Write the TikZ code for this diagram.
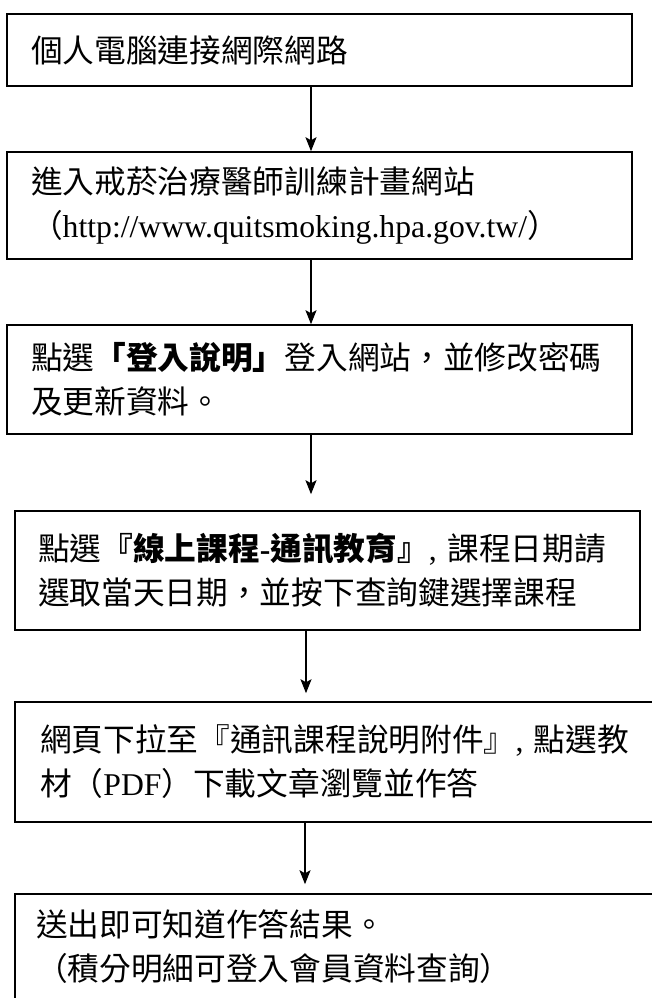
\documentclass[tikz,border=0pt]{standalone}
\usepackage{fontspec}
\setmainfont{Noto Sans CJK TC}
\newfontfamily\lat{Liberation Serif}
\usetikzlibrary{arrows.meta}
\tikzset{
  flowbox/.style={draw=black, line width=1.5pt, rectangle, inner ysep=0pt,
    align=left, font=\fontsize{31.7}{44}\selectfont},
  arr/.style={line width=1.4pt, -{Stealth[length=14pt,width=11pt,inset=3pt]}}
}
\begin{document}
\begin{tikzpicture}[x=1pt,y=-1pt]
\useasboundingbox (0,0) rectangle (652,998);
\clip (0,0) rectangle (652,998);
\fill[white] (0,0) rectangle (652,998);
\node[flowbox, minimum width=625pt, minimum height=72pt, inner xsep=24pt, text width=577pt]
  (b1) at (319.5,50) {個人電腦連接網際網路};
\node[flowbox, minimum width=625pt, minimum height=107pt, inner xsep=24pt, text width=577pt]
  (b2) at (319.5,205.5) {進入戒菸治療醫師訓練計畫網站\\（{\lat http://www.quitsmoking.hpa.gov.tw/}）};
\node[flowbox, minimum width=625pt, minimum height=109pt, inner xsep=24pt, text width=577pt]
  (b3) at (319.5,379.5) {點選\textbf{「登入說明」}登入網站，並修改密碼\\及更新資料。};
\node[flowbox, minimum width=625pt, minimum height=119pt, inner xsep=23pt, text width=579pt]
  (b4) at (327.5,570.5) {點選\textbf{『線上課程{\lat-}通訊教育』}{\lat, }課程日期請\\選取當天日期，並按下查詢鍵選擇課程};
\node[flowbox, minimum width=650pt, minimum height=120pt, inner xsep=25pt, text width=600pt]
  (b5) at (340,762) {網頁下拉至『通訊課程說明附件』{\lat, }點選教\\材（{\lat PDF}）下載文章瀏覽並作答};
\node[flowbox, minimum width=650pt, minimum height=106pt, inner xsep=21pt, text width=608pt]
  (b6) at (340,947) {送出即可知道作答結果。\\（積分明細可登入會員資料查詢）};
\coordinate (ax1) at (311,0);
\coordinate (ax4) at (306,0);
\coordinate (ax5) at (305,0);
\draw[arr] (b1.south -| ax1) -- (b2.north -| ax1);
\draw[arr] (b2.south -| ax1) -- (b3.north -| ax1);
\draw[arr, shorten >=16pt] (b3.south -| ax1) -- (b4.north -| ax1);
\draw[arr, shorten >=8pt] (b4.south -| ax4) -- (b5.north -| ax4);
\draw[arr, shorten >=9pt] (b5.south -| ax5) -- (b6.north -| ax5);
\end{tikzpicture}
\end{document}
